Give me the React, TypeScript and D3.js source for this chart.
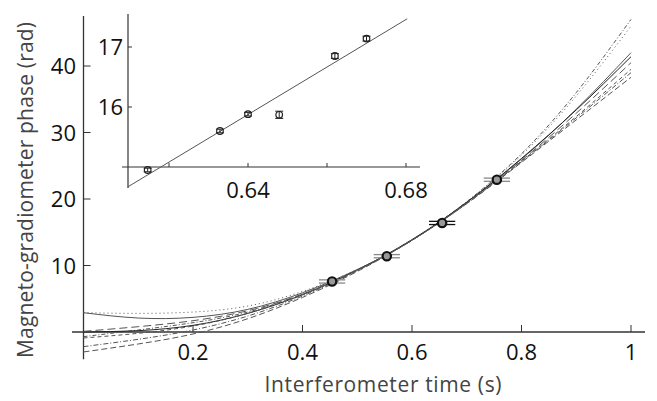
import React from 'react';
import * as d3 from 'd3';

const tGrid = [0, 0.1, 0.2, 0.3, 0.4, 0.5, 0.6, 0.7, 0.8, 0.9, 1.0];
const fitDashDot = [-0.7, 0.3, 1.4, 3.0, 5.7, 9.3, 13.8, 19.6, 26.8, 36.0, 47.0];
const fitDotted = [2.9, 2.8, 3.0, 3.9, 6.1, 9.4, 13.8, 19.6, 26.6, 35.5, 46.0];
const fitSolid = [2.9, 2.1, 2.2, 3.4, 5.9, 9.4, 13.8, 19.5, 26.0, 33.5, 42.0];
const fitSolidDark = [0.0, 0.2, 1.0, 2.8, 5.6, 9.3, 13.9, 19.5, 26.1, 33.4, 41.4];
const fitLongDash = [0.1, 0.8, 1.7, 3.2, 5.7, 9.3, 13.8, 19.4, 25.8, 32.9, 40.5];
const fitShortDash = [-0.9, -0.2, 0.9, 2.8, 5.6, 9.3, 13.8, 19.4, 25.7, 32.4, 39.5];
const fitDashDot2 = [-2.2, -1.1, 0.3, 2.4, 5.4, 9.2, 13.8, 19.3, 25.6, 32.2, 39.0];
const fitDashed = [-3.0, -1.8, -0.3, 2.0, 5.2, 9.1, 13.8, 19.3, 25.5, 31.9, 38.3];

const pointT = [0.454, 0.554, 0.655, 0.755];
const pointV = [7.6, 11.4, 16.4, 22.9];
const pointErr = [0.024, 0.024, 0.024, 0.024];
const pointBarDark = [false, false, true, false];

const xTicks = [0.2, 0.4, 0.6, 0.8, 1];
const yTicks = [10, 20, 30, 40];

// inset
const insetT = [0.6146, 0.6329, 0.640, 0.6479, 0.662, 0.670];
const insetV = [14.95, 15.6, 15.88, 15.87, 16.85, 17.14];
const insetErr = [0.03, 0.03, 0.03, 0.06, 0.04, 0.04];
const insetLineT = [0.6096, 0.6803];
const insetLineV = [14.67, 17.47];
const insetXTicks = [0.62, 0.64, 0.66, 0.68];
const insetXLabels = [0.64, 0.68];
const insetYTicks = [16, 17];

const fits = [
  { v: fitDashDot, dash: '4,2,1,2', color: '#555' },
  { v: fitDotted, dash: '1,3', color: '#555' },
  { v: fitSolid, dash: null, color: '#555' },
  { v: fitSolidDark, dash: null, color: '#222' },
  { v: fitLongDash, dash: '8,4', color: '#555' },
  { v: fitShortDash, dash: '4,3', color: '#555' },
  { v: fitDashDot2, dash: '5,2,1,2', color: '#555' },
  { v: fitDashed, dash: '6,3', color: '#555' },
];

const FONT = '"Open Sans", "Noto Sans", sans-serif';

export default function App() {
  const x = d3.scaleLinear().domain([0, 1]).range([83.5, 631]);
  const y = d3.scaleLinear().domain([0, 40]).range([332, 66]);

  const ix = d3.scaleLinear().domain([0.64, 0.68]).range([248, 406]);
  const iy = d3.scaleLinear().domain([16, 17]).range([107, 47]);

  const line = d3
    .line<number>()
    .x((_, i) => x(tGrid[i]))
    .y((d) => y(d))
    .curve(d3.curveNatural);

  const insetLine = d3
    .line<number>()
    .x((_, i) => ix(insetLineT[i]))
    .y((d) => iy(d));

  const axisColor = '#333';

  return (
    <svg
      width={657}
      height={401}
      style={{ position: 'absolute', left: 0, top: 0, background: '#fff' }}
      fontFamily={FONT}
    >
      {/* main axes */}
      <line x1={72} x2={645} y1={y(0)} y2={y(0)} stroke={axisColor} strokeWidth={1.3} />
      <line x1={x(0)} x2={x(0)} y1={16} y2={y(-4.1)} stroke={axisColor} strokeWidth={1.3} />
      {xTicks.map((t) => (
        <g key={'xt' + t}>
          <line x1={x(t)} x2={x(t)} y1={y(0)} y2={y(0) - 7} stroke={axisColor} strokeWidth={1} />
          <text x={x(t)} y={360} fontSize={22} textAnchor="middle" fill="#111">
            {String(t)}
          </text>
        </g>
      ))}
      {yTicks.map((v) => (
        <g key={'yt' + v}>
          <line x1={x(0)} x2={x(0) + 7} y1={y(v)} y2={y(v)} stroke={axisColor} strokeWidth={1} />
          <text x={76} y={y(v) + 8} fontSize={22} textAnchor="end" fill="#111">
            {v}
          </text>
        </g>
      ))}
      <text x={383} y={392} fontSize={21} textAnchor="middle" fill="#444" textLength={237}>
        Interferometer time (s)
      </text>
      <text
        transform="translate(33,190) rotate(-90)"
        fontSize={21}
        textAnchor="middle"
        fill="#444"
        textLength={336}
      >
        Magneto-gradiometer phase (rad)
      </text>

      {/* fit curves */}
      {fits.map((f, i) => (
        <path
          key={'fit' + i}
          d={line(f.v) || ''}
          fill="none"
          stroke={f.color}
          strokeWidth={1}
          strokeDasharray={f.dash || undefined}
        />
      ))}

      {/* data points */}
      {pointT.map((t, i) => {
        const cx = x(t);
        const cy = y(pointV[i]);
        const x0 = x(t - pointErr[i]);
        const x1 = x(t + pointErr[i]);
        const c = pointBarDark[i] ? '#111' : '#888';
        return (
          <g key={'pt' + i}>
            <line x1={x0} x2={x1} y1={cy - 1.6} y2={cy - 1.6} stroke={c} strokeWidth={1.3} />
            <line x1={x0} x2={x1} y1={cy + 1.6} y2={cy + 1.6} stroke={c} strokeWidth={1.3} />
            <circle cx={cx} cy={cy} r={4.2} fill="#999" stroke="#111" strokeWidth={2.2} />
          </g>
        );
      })}

      {/* inset */}
      <line x1={122} x2={420} y1={iy(15)} y2={iy(15)} stroke={axisColor} strokeWidth={1.2} />
      <line x1={128} x2={128} y1={14} y2={188} stroke={axisColor} strokeWidth={1.2} />
      {insetXTicks.map((t) => (
        <line key={'ixt' + t} x1={ix(t)} x2={ix(t)} y1={iy(15)} y2={iy(15) - 4} stroke={axisColor} strokeWidth={1} />
      ))}
      {insetXLabels.map((t) => (
        <text key={'ixl' + t} x={ix(t)} y={198} fontSize={22} textAnchor="middle" fill="#111">
          {t.toFixed(2)}
        </text>
      ))}
      {insetYTicks.map((v) => (
        <g key={'iyt' + v}>
          <line x1={128} x2={132} y1={iy(v)} y2={iy(v)} stroke={axisColor} strokeWidth={1} />
          <text x={123} y={iy(v) + 8} fontSize={22} textAnchor="end" fill="#111">
            {v}
          </text>
        </g>
      ))}
      <path d={insetLine(insetLineV) || ''} fill="none" stroke="#555" strokeWidth={1} />
      {insetT.map((t, i) => {
        const cx = ix(t);
        const cy = iy(insetV[i]);
        const y0 = iy(insetV[i] + insetErr[i]);
        const y1 = iy(insetV[i] - insetErr[i]);
        return (
          <g key={'ip' + i}>
            <line x1={cx} x2={cx} y1={y0} y2={y1} stroke="#222" strokeWidth={1} />
            <line x1={cx - 4} x2={cx + 4} y1={y0} y2={y0} stroke="#222" strokeWidth={1} />
            <line x1={cx - 4} x2={cx + 4} y1={y1} y2={y1} stroke="#222" strokeWidth={1} />
            <circle cx={cx} cy={cy} r={3.3} fill="none" stroke="#222" strokeWidth={1.2} />
          </g>
        );
      })}
    </svg>
  );
}
